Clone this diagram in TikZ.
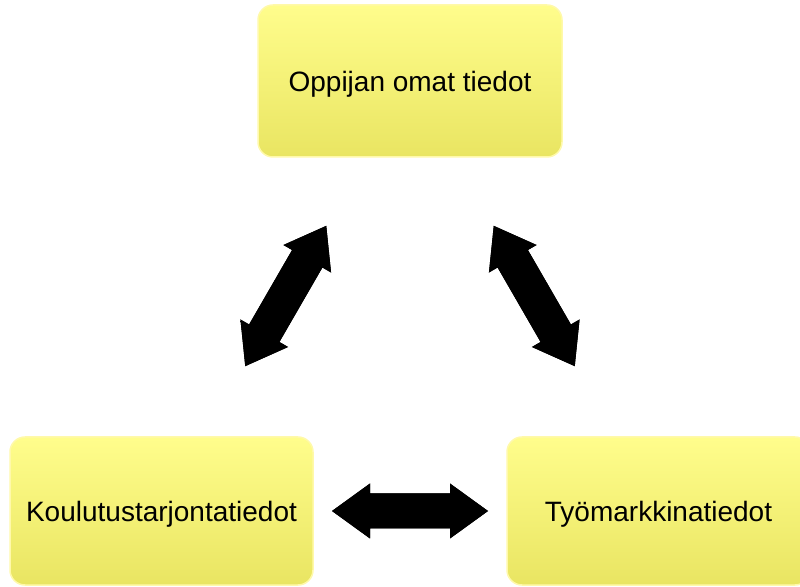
\documentclass[tikz,border=0pt]{standalone}
\usepackage{fontspec}
\setmainfont{Liberation Sans}
\usetikzlibrary{calc}

\definecolor{keltay}{RGB}{255,253,140}
\definecolor{keltaa}{RGB}{233,229,98}
\definecolor{reuna}{RGB}{255,249,170}

\tikzset{
  laatikko/.style={rounded corners=15pt, draw=reuna, line width=1.5pt,
    top color=keltay, middle color=keltay!70!keltaa, bottom color=keltaa,
    minimum width=303pt, minimum height=148pt, font=\fontsize{28}{31}\selectfont,
    inner sep=0pt, text depth=0pt},
  nuoli/.style={top color=black, middle color=black!72, bottom color=black}
}

\begin{document}
\begin{tikzpicture}[x=1pt,y=1pt]
   \useasboundingbox (0,0) rectangle (800,586);

   % laatikot
   \node [laatikko, minimum width=304pt, minimum height=152pt] (oppija) at (410,505) {Oppijan omat tiedot};
   \node [laatikko] (koulutus) at (161.5,75) {Koulutustarjontatiedot};
   \node [laatikko] (tyo) at (658.5,75) {Työmarkkinatiedot};

   % nuolet
   \coordinate (vasen) at ($(koulutus)!0.5!(oppija)$);
   \coordinate (oikea) at ($(tyo)!0.5!(oppija)$);
   \coordinate (ala) at ($(koulutus)!0.5!(tyo)$);

   \foreach \paikka/\kulma/\puoli in {vasen/60/81, oikea/-60/81, ala/0/78}{
     \begin{scope}[shift={(\paikka)}, rotate=\kulma]
       \fill [nuoli] (-\puoli,0) -- (-\puoli+38,27.5) -- (-\puoli+38,17.5)
         -- (\puoli-38,17.5) -- (\puoli-38,27.5) -- (\puoli,0)
         -- (\puoli-38,-27.5) -- (\puoli-38,-17.5) -- (-\puoli+38,-17.5)
         -- (-\puoli+38,-27.5) -- cycle;
     \end{scope}
   }

\end{tikzpicture}
\end{document}
